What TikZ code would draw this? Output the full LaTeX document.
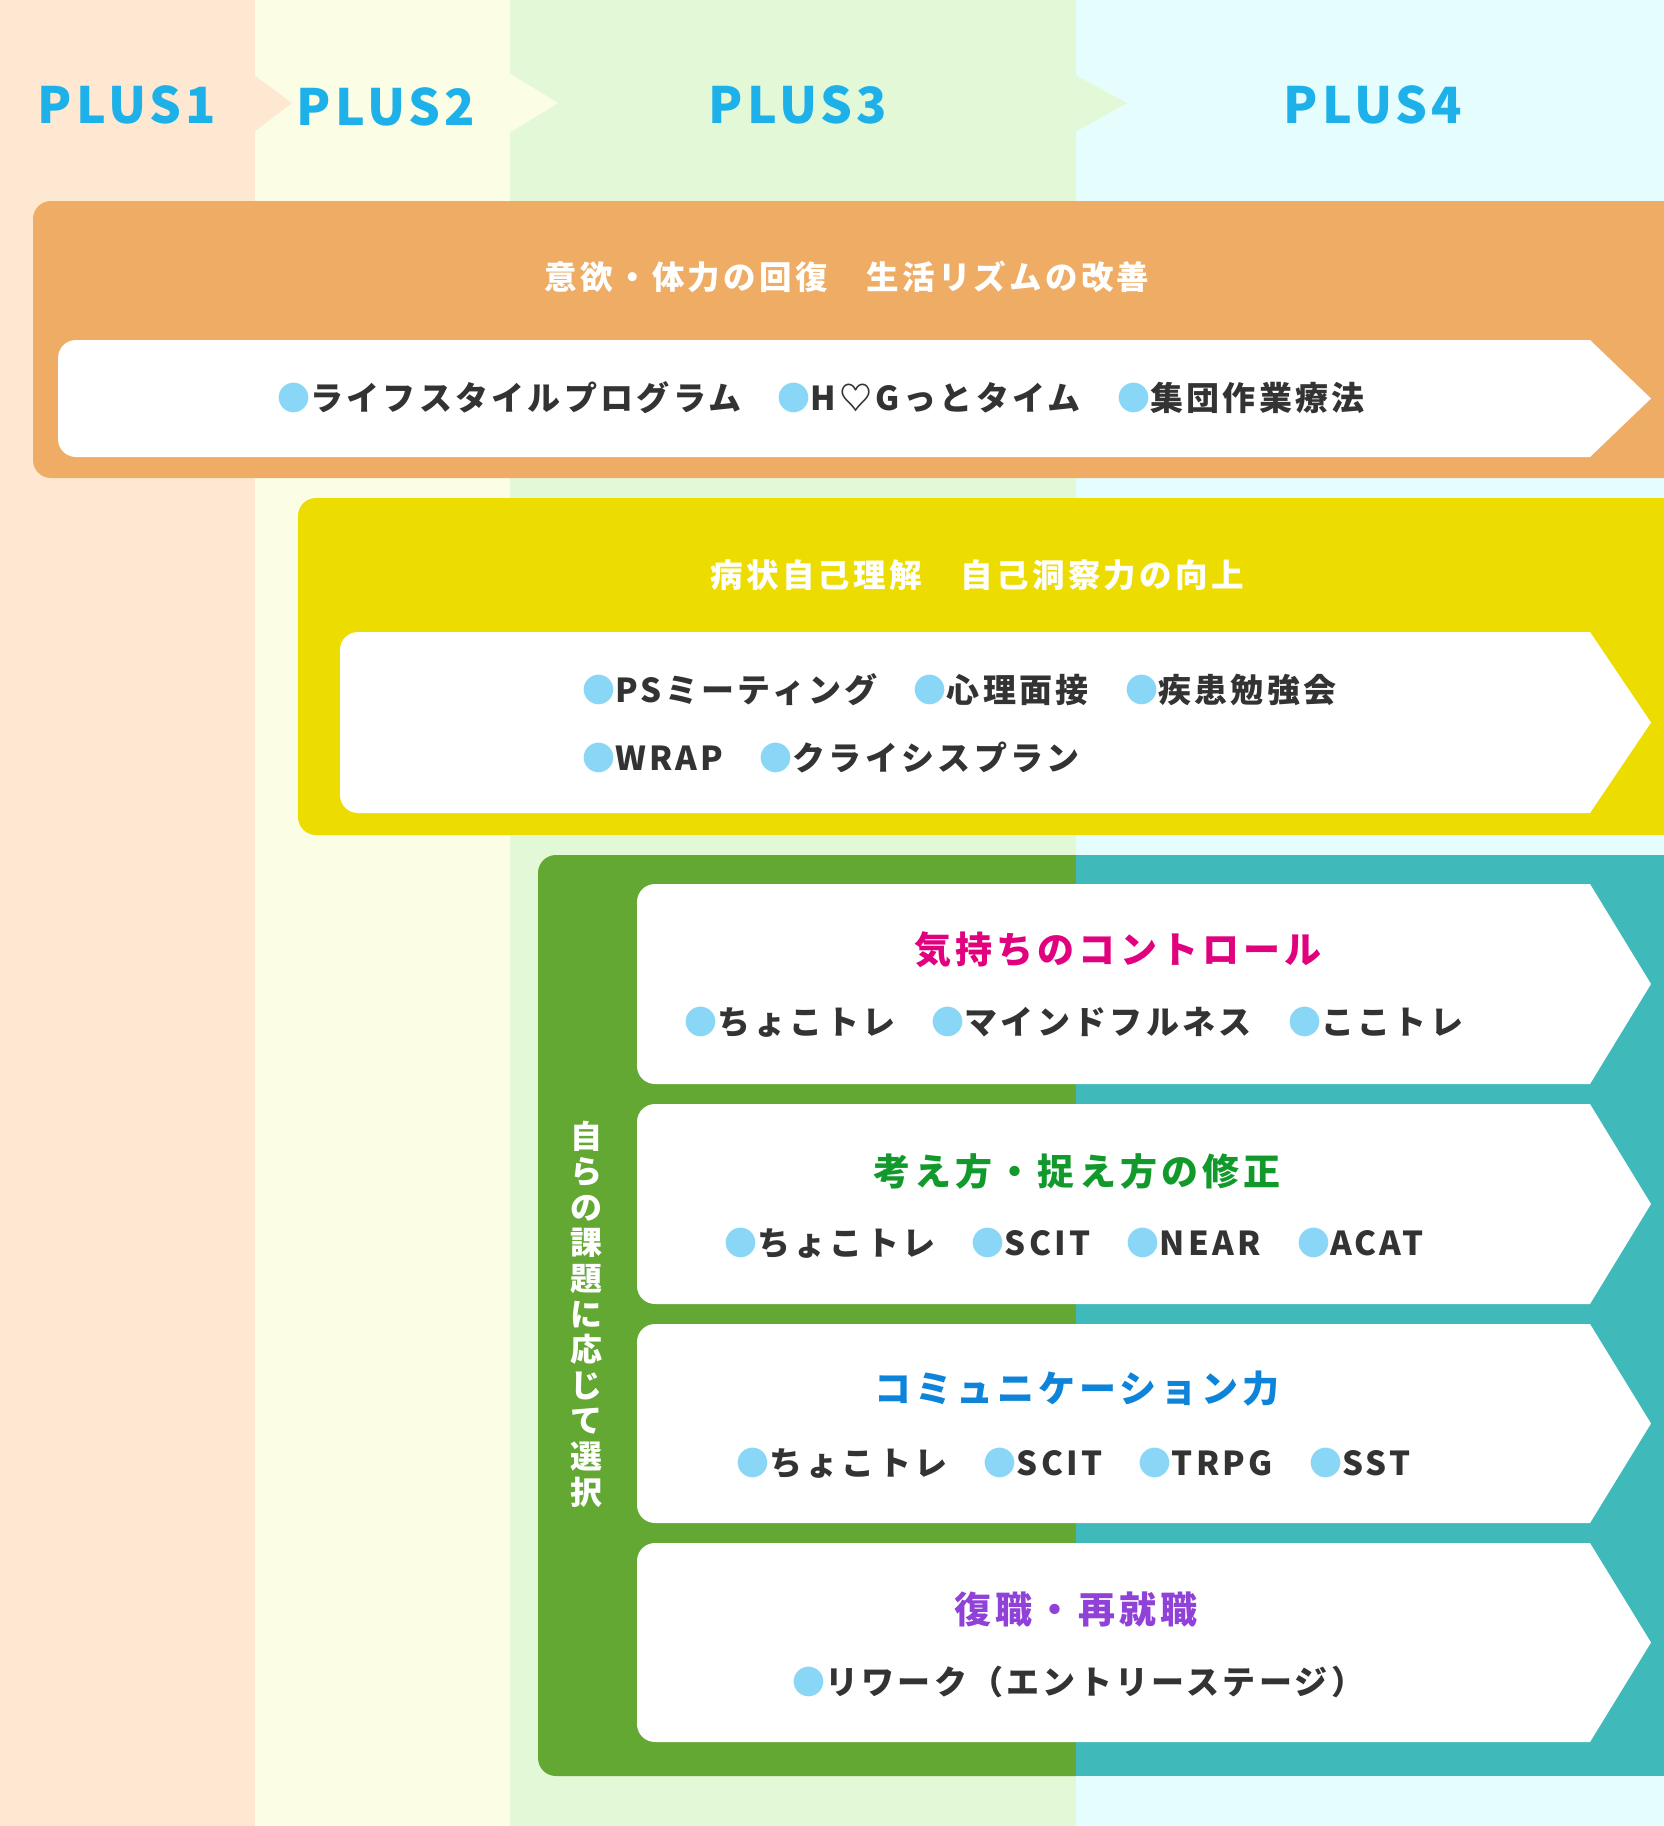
\documentclass[tikz,border=0pt]{standalone}
\usepackage{fontspec}
\setmainfont{Noto Sans CJK JP}
\definecolor{colA}{HTML}{FFE8D1}
\definecolor{colB}{HTML}{FBFEE5}
\definecolor{colC}{HTML}{E3F8D7}
\definecolor{colD}{HTML}{E5FEFD}
\definecolor{orangebox}{HTML}{EEAC64}
\definecolor{yellowbox}{HTML}{EDDC00}
\definecolor{greenbox}{HTML}{62A833}
\definecolor{tealbox}{HTML}{40B9BA}
\definecolor{bulc}{HTML}{8AD6F6}
\definecolor{darktext}{HTML}{333333}
\definecolor{plusc}{HTML}{1EB1E9}
\definecolor{tmag}{HTML}{E1007E}
\definecolor{tgreen}{HTML}{119A2B}
\definecolor{tblue}{HTML}{0D84DA}
\definecolor{tpurple}{HTML}{9041D8}
\newcommand\bul{{\color{bulc}●}}
\newcommand\whitearrow[3]{%
  \fill[white] (1590,#2) [rounded corners=18pt] -- (#1,#2) -- (#1,#3) [sharp corners] -- (1590,#3) -- (1651,{(#2+#3)/2}) -- cycle;}
\tikzset{
  plus/.style={inner sep=0pt, text=plusc, font=\bfseries\fontsize{50}{56}\selectfont\addfontfeatures{LetterSpace=8}},
  bandtitle/.style={inner sep=0pt, text=white, font=\bfseries\fontsize{32.5}{36}\selectfont\addfontfeatures{LetterSpace=10}},
  item/.style={inner sep=0pt, anchor=west, text=darktext, font=\bfseries\fontsize{33}{37}\selectfont\addfontfeatures{LetterSpace=10}},
  subtitle/.style={inner sep=0pt, font=\bfseries\fontsize{37}{42}\selectfont\addfontfeatures{LetterSpace=11}},
  vtext/.style={inner sep=0pt, text=white, align=center, font=\bfseries\fontsize{32}{35.6}\selectfont},
}
\begin{document}
\begin{tikzpicture}[x=1pt,y=-1pt]
\useasboundingbox (0,0) rectangle (1664,1826);
% column backgrounds
\fill[colA] (0,0) rectangle (255,1826);
\fill[colB] (255,0) rectangle (510,1826);
\fill[colC] (510,0) rectangle (1076,1826);
\fill[colD] (1076,0) rectangle (1664,1826);
% chevrons
\fill[colA] (254,75) -- (292,103) -- (254,132) -- cycle;
\fill[colB] (509,73) -- (558,103) -- (509,133) -- cycle;
\fill[colC] (1075,75) -- (1127,103) -- (1075,132) -- cycle;
% PLUS labels
\node[plus] (p1) at (127,105) {PLUS1};
\node[plus] (p2) at (386,107) {PLUS2};
\node[plus] (p3) at (798,105) {PLUS3};
\node[plus] (p4) at (1373,105) {PLUS4};
% orange band
\fill[orangebox] (1664,201) [rounded corners=18pt] -- (33,201) -- (33,478) [sharp corners] -- (1664,478) -- cycle;
\whitearrow{58}{340}{457}
\node[bandtitle] (ot) at (847,277) {意欲・体力の回復　生活リズムの改善};
\node[item] (oi) at (277,398) {\bul ライフスタイルプログラム　\bul H♡Gっとタイム　\bul 集団作業療法};
% yellow band
\fill[yellowbox] (1664,498) [rounded corners=18pt] -- (298,498) -- (298,835) [sharp corners] -- (1664,835) -- cycle;
\whitearrow{340}{632}{813}
\node[bandtitle] (yt) at (977,575) {病状自己理解　自己洞察力の向上};
\node[item] (yi1) at (582,690) {\bul PSミーティング　\bul 心理面接　\bul 疾患勉強会};
\node[item] (yi2) at (582,757) {\bul WRAP　\bul クライシスプラン};
% green / teal band
\fill[greenbox] (1076,855) [rounded corners=18pt] -- (538,855) -- (538,1776) [sharp corners] -- (1076,1776) -- cycle;
\fill[tealbox] (1076,855) rectangle (1664,1776);
\node[vtext] (sel) at (586,1314) {自\\ら\\の\\課\\題\\に\\応\\じ\\て\\選\\択};
\whitearrow{637}{884}{1084}
\whitearrow{637}{1104}{1304}
\whitearrow{637}{1324}{1523}
\whitearrow{637}{1543}{1742}
\node[subtitle, text=tmag] (t1) at (1118,950) {気持ちのコントロール};
\node[item] (i1) at (684,1022) {\bul ちょこトレ　\bul マインドフルネス　\bul ここトレ};
\node[subtitle, text=tgreen] (t2) at (1077,1171) {考え方・捉え方の修正};
\node[item] (i2) at (724,1243) {\bul ちょこトレ　\bul SCIT　\bul NEAR　\bul ACAT};
\node[subtitle, text=tblue] (t3) at (1077,1389) {コミュニケーション力};
\node[item] (i3) at (736,1463) {\bul ちょこトレ　\bul SCIT　\bul TRPG　\bul SST};
\node[subtitle, text=tpurple] (t4) at (1076,1609) {復職・再就職};
\node[item] (i4) at (792,1682) {\bul リワーク（エントリーステージ）};
\end{tikzpicture}
\end{document}
